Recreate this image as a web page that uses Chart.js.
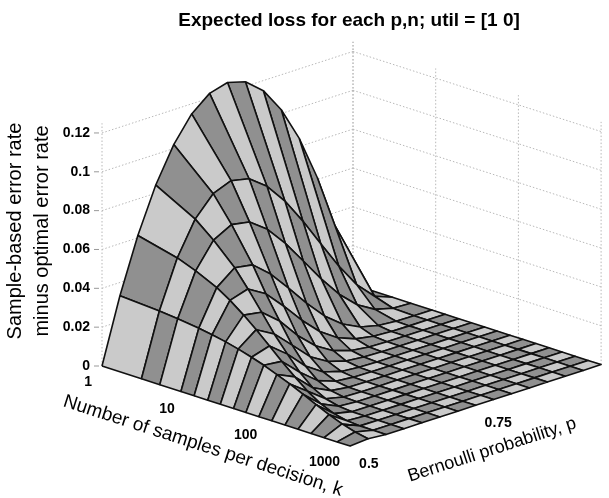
<!DOCTYPE html>
<html>
<head>
<meta charset="utf-8">
<title>Expected loss for each p,n</title>
<script src="https://cdn.jsdelivr.net/npm/chart.js@4.4.1/dist/chart.umd.min.js"></script>
<style>
  html, body { margin: 0; padding: 0; background: #fff; }
  #wrap { width: 609px; height: 498px; position: relative; }
</style>
</head>
<body>
<div id="wrap"><canvas id="surfaceChart"></canvas></div>
<script>
// samples per decision, k (one mesh row each)
const kValues = [1, 3, 5, 9, 13, 19, 27, 39, 55, 79, 113, 163, 235, 337, 485, 697, 1000];
// Bernoulli probability, p (mesh columns)
const pValues = [0.5, 0.5357, 0.5714, 0.6071, 0.6429, 0.6786, 0.7143, 0.75,
                 0.7857, 0.8214, 0.8571, 0.8929, 0.9286, 0.9643, 1];

// sample-based minus optimal error rate, read along p for each k
const lossK1    = [0, 0.0332, 0.0612, 0.0842, 0.1020, 0.1148, 0.1224, 0.1250, 0.1224, 0.1148, 0.1020, 0.0842, 0.0612, 0.0332, 0];
const lossK3    = [0, 0.0319, 0.0562, 0.0732, 0.0833, 0.0870, 0.0850, 0.0781, 0.0675, 0.0542, 0.0396, 0.0251, 0.0125, 0.0035, 0];
const lossK5    = [0, 0.0309, 0.0526, 0.0654, 0.0704, 0.0688, 0.0620, 0.0518, 0.0397, 0.0275, 0.0166, 0.0082, 0.0028, 0.0004, 0];
const lossK9    = [0, 0.0296, 0.0475, 0.0547, 0.0532, 0.0455, 0.0352, 0.0245, 0.0149, 0.0078, 0.0032, 0.0010, 0.0002, 0, 0];
const lossK13   = [0, 0.0284, 0.0431, 0.0460, 0.0405, 0.0311, 0.0209, 0.0121, 0.0059, 0.0023, 0.0007, 0.0001, 0, 0, 0];
const lossK19   = [0, 0.0270, 0.0378, 0.0363, 0.0288, 0.0183, 0.0100, 0.0045, 0.0016, 0.0004, 0.0001, 0, 0, 0, 0];
const lossK27   = [0, 0.0254, 0.0324, 0.0272, 0.0184, 0.0095, 0.0040, 0.0013, 0.0003, 0, 0, 0, 0, 0, 0];
const lossK39   = [0, 0.0234, 0.0262, 0.0190, 0.0099, 0.0038, 0.0011, 0.0002, 0, 0, 0, 0, 0, 0, 0];
const lossK55   = [0, 0.0213, 0.0203, 0.0117, 0.0044, 0.0011, 0.0002, 0, 0, 0, 0, 0, 0, 0, 0];
const lossK79   = [0, 0.0187, 0.0145, 0.0059, 0.0014, 0.0002, 0, 0, 0, 0, 0, 0, 0, 0, 0];
const lossK113  = [0, 0.0160, 0.0092, 0.0024, 0.0003, 0, 0, 0, 0, 0, 0, 0, 0, 0, 0];
const lossK163  = [0, 0.0129, 0.0049, 0.0007, 0, 0, 0, 0, 0, 0, 0, 0, 0, 0, 0];
const lossK235  = [0, 0.0097, 0.0021, 0.0001, 0, 0, 0, 0, 0, 0, 0, 0, 0, 0, 0];
const lossK337  = [0, 0.0067, 0.0006, 0, 0, 0, 0, 0, 0, 0, 0, 0, 0, 0, 0];
const lossK485  = [0, 0.0041, 0.0001, 0, 0, 0, 0, 0, 0, 0, 0, 0, 0, 0, 0];
const lossK697  = [0, 0.0021, 0, 0, 0, 0, 0, 0, 0, 0, 0, 0, 0, 0, 0];
const lossK1000 = [0, 0.0008, 0, 0, 0, 0, 0, 0, 0, 0, 0, 0, 0, 0, 0];

const lossRows = [lossK1, lossK3, lossK5, lossK9, lossK13, lossK19, lossK27, lossK39, lossK55,
                  lossK79, lossK113, lossK163, lossK235, lossK337, lossK485, lossK697, lossK1000];

// axis ticks
const zTicks = [0, 0.02, 0.04, 0.06, 0.08, 0.1, 0.12];
const zTickLabels = ['0', '0.02', '0.04', '0.06', '0.08', '0.1', '0.12'];
const kTicks = [1, 10, 100, 1000];
const kTickLabels = ['1', '10', '100', '1000'];
const pTicks = [0.5, 0.75, 1];
const pTickLabels = ['0.5', '0.75'];   // the "1" would fall off the right edge
const zTop = 0.125;

// fixed camera: where one decade of k, one unit of p and one unit of loss land on the page
const view = { x0: 102, y0: 366, kx: 82.7, ky: 26.7, px: 502, py: -163, zs: 1942 };

function project(k, p, z) {
    const d = Math.log10(k), e = p - 0.5;
    return {
        x: view.x0 + d * view.kx + e * view.px,
        y: view.y0 + d * view.ky + e * view.py - z * view.zs
    };
}

const FONT = '"Liberation Sans", Arial, Helvetica, sans-serif';
const lightFace = '#cacaca';
const darkFace = '#909090';

const datasets = [];

function addGridLine(a, b) {
    datasets.push({
        data: [a, b],
        showLine: true,
        pointRadius: 0,
        borderColor: '#b8b8b8',
        borderWidth: 1,
        borderDash: [1.5, 2],
        fill: false,
        order: 100000
    });
}

function buildWalls() {
    // back wall at k = 1
    for (const z of zTicks) addGridLine(project(1, 0.5, z), project(1, 1, z));
    for (const p of pTicks) addGridLine(project(1, p, 0), project(1, p, zTop));
    // back wall at p = 1
    for (const z of zTicks) addGridLine(project(1, 1, z), project(1000, 1, z));
    for (const k of kTicks) addGridLine(project(k, 1, 0), project(k, 1, zTop));
}

function buildSurface() {
    for (let i = 0; i < kValues.length - 1; i++) {
        for (let j = 0; j < pValues.length - 1; j++) {
            const corners = [[i, j], [i + 1, j], [i + 1, j + 1], [i, j + 1], [i, j]];
            const pts = corners.map(([a, b]) => project(kValues[a], pValues[b], lossRows[a][b]));
            // painter's order: far cells (small k, large p) go underneath
            const kn = (Math.log10(kValues[i]) + Math.log10(kValues[i + 1])) / 6;
            const pn = pValues[j] + pValues[j + 1] - 1;
            datasets.push({
                data: pts,
                showLine: true,
                pointRadius: 0,
                borderColor: '#111',
                borderWidth: 1.6,
                borderJoinStyle: 'round',
                backgroundColor: (i + j) % 2 ? darkFace : lightFace,
                fill: 'shape',
                order: Math.round((pn - kn) * 1000) + 5000
            });
        }
    }
}

const labelPlugin = {
    id: 'surfaceLabels',
    afterDraw(chart) {
        const { ctx, scales } = chart;
        const toPx = pt => ({ x: scales.x.getPixelForValue(pt.x), y: scales.y.getPixelForValue(pt.y) });
        ctx.save();
        ctx.fillStyle = '#000';

        // title
        ctx.font = 'bold 19px ' + FONT;
        ctx.textAlign = 'center';
        ctx.textBaseline = 'middle';
        ctx.fillText('Expected loss for each p,n; util = [1 0]', 349, 21);

        // z ticks
        ctx.font = 'bold 14px ' + FONT;
        ctx.textAlign = 'right';
        ctx.strokeStyle = '#999';
        ctx.lineWidth = 1;
        zTicks.forEach((z, i) => {
            const q = toPx(project(1, 0.5, z));
            ctx.fillText(zTickLabels[i], q.x - 12, q.y);
            ctx.beginPath();
            ctx.moveTo(q.x - 8, q.y);
            ctx.lineTo(q.x - 3, q.y);
            ctx.stroke();
        });

        // k ticks
        kTicks.forEach((k, i) => {
            const q = toPx(project(k, 0.5, 0));
            ctx.fillText(kTickLabels[i], q.x - 10, q.y + 16);
        });

        // p ticks
        ctx.textAlign = 'left';
        pTickLabels.forEach((label, i) => {
            const q = toPx(project(1000, pTicks[i], 0));
            ctx.fillText(label, q.x + 9, q.y + 18);
        });

        // axis titles
        ctx.font = '20px ' + FONT;
        ctx.textAlign = 'center';
        ctx.save();
        ctx.translate(15, 231);
        ctx.rotate(-Math.PI / 2);
        ctx.fillText('Sample-based error rate', 0, 0);
        ctx.fillText('minus optimal error rate', 0, 27);
        ctx.restore();

        const angle = Math.atan2(view.ky, view.kx);
        ctx.font = '19px ' + FONT;
        ctx.save();
        ctx.translate(203, 446);
        ctx.rotate(angle);
        ctx.fillText('Number of samples per decision, k', 0, 0);
        ctx.restore();

        ctx.font = '18px ' + FONT;
        ctx.save();
        ctx.translate(492, 450);
        ctx.rotate(-angle);
        ctx.fillText('Bernoulli probability, p', 0, 0);
        ctx.restore();

        ctx.restore();
    }
};

function initializeChart() {
    buildWalls();
    buildSurface();
    const canvas = document.getElementById('surfaceChart');
    new Chart(canvas.getContext('2d'), {
        type: 'scatter',
        data: { datasets: datasets },
        options: {
            responsive: true,
            maintainAspectRatio: false,
            animation: false,
            layout: { padding: 0 },
            scales: {
                x: { type: 'linear', min: 0, max: 609, display: false },
                y: { type: 'linear', min: 0, max: 498, reverse: true, display: false }
            },
            plugins: {
                legend: { display: false },
                tooltip: { enabled: false },
                title: { display: false }
            }
        },
        plugins: [labelPlugin]
    });
}

document.addEventListener('DOMContentLoaded', initializeChart);
</script>
</body>
</html>
